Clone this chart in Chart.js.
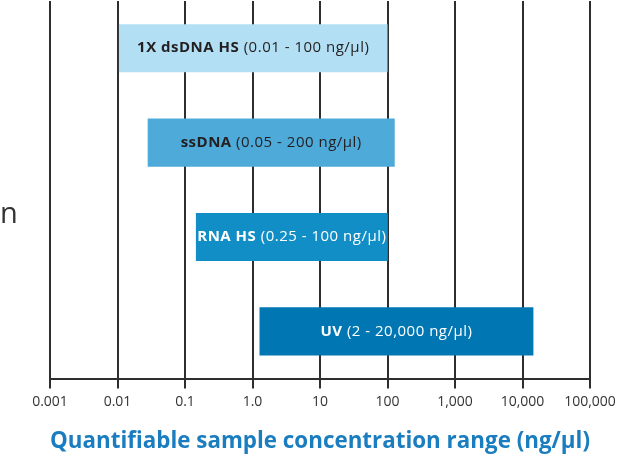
<!DOCTYPE html>
<html>
<head>
<meta charset="utf-8">
<script src="https://cdn.jsdelivr.net/npm/chart.js@4"></script>
<style>
html,body{margin:0;padding:0;background:#fff;}
#wrap{width:633px;height:455px;position:relative;}
</style>
</head>
<body>
<div id="wrap"><canvas id="c" width="633" height="455"></canvas></div>
<script>
const categories = ['1X dsDNA HS', 'ssDNA', 'RNA HS', 'UV'];
const rangeTexts = ['(0.01 - 100 ng/µl)', '(0.05 - 200 ng/µl)', '(0.25 - 100 ng/µl)', '(2 - 20,000 ng/µl)'];
const rangeStart = [0.0105, 0.028, 0.145, 1.27];
const rangeEnd = [100, 128, 101, 14500];
const tickValues = [0.001, 0.01, 0.1, 1, 10, 100, 1000, 10000, 100000];
const tickLabels = ['0.001', '0.01', '0.1', '1.0', '10', '100', '1,000', '10,000', '100,000'];
const barColors = ['#b2dff4', '#4eaad9', '#128ec7', '#0076b3'];
const textColors = ['#231f20', '#231f20', '#ffffff', '#ffffff'];
const axisTitle = 'Quantifiable sample concentration range (ng/µl)';
const sideText = 'n';

const FONT = '"Open Sans", Lato, sans-serif';

const barLabelPlugin = {
  id: 'barLabels',
  afterDatasetsDraw(chart) {
    const ctx = chart.ctx;
    const meta = chart.getDatasetMeta(0);
    ctx.save();
    ctx.textBaseline = 'middle';
    try { ctx.letterSpacing = '0.5px'; } catch (e) {}
    meta.data.forEach((bar, i) => {
      const p = bar.getProps(['x', 'y', 'base'], true);
      const cx = (p.x + p.base) / 2;
      const bold = categories[i] + ' ';
      const reg = rangeTexts[i];
      ctx.font = 'bold 15px ' + FONT;
      const wb = ctx.measureText(bold).width;
      ctx.font = '15px ' + FONT;
      const wr = ctx.measureText(reg).width;
      let x = cx - (wb + wr) / 2;
      ctx.fillStyle = textColors[i];
      ctx.textAlign = 'left';
      ctx.font = 'bold 15px ' + FONT;
      ctx.fillText(bold, x, p.y);
      ctx.font = '15px ' + FONT;
      ctx.fillText(reg, x + wb, p.y);
    });
    ctx.restore();
  }
};

const sideTextPlugin = {
  id: 'sideText',
  afterDraw(chart) {
    const ctx = chart.ctx;
    ctx.save();
    ctx.font = '29px ' + FONT;
    ctx.fillStyle = '#333333';
    ctx.textAlign = 'left';
    ctx.textBaseline = 'alphabetic';
    ctx.fillText(sideText, 0, 223);
    ctx.restore();
  }
};

new Chart(document.getElementById('c'), {
  type: 'bar',
  data: {
    labels: categories,
    datasets: [{
      data: categories.map((c, i) => [rangeStart[i], rangeEnd[i]]),
      backgroundColor: barColors,
      borderWidth: 0,
      borderSkipped: false,
      barPercentage: 0.51,
      categoryPercentage: 1.0
    }]
  },
  options: {
    indexAxis: 'y',
    responsive: false,
    animation: false,
    layout: { padding: { left: 50, right: 43, top: 1, bottom: 0 } },
    plugins: {
      legend: { display: false },
      tooltip: { enabled: false }
    },
    scales: {
      y: {
        display: false
      },
      x: {
        type: 'logarithmic',
        min: 0.001,
        max: 100000,
        afterBuildTicks(scale) {
          scale.ticks = tickValues.map(v => ({ value: v }));
        },
        ticks: {
          autoSkip: false,
          maxRotation: 0,
          padding: 5,
          color: '#333333',
          font: { family: FONT, size: 14 },
          callback(value) {
            const i = tickValues.findIndex(t => Math.abs(Math.log10(t) - Math.log10(value)) < 1e-6);
            return i >= 0 ? tickLabels[i] : '';
          }
        },
        grid: {
          color: '#2e2e2e',
          lineWidth: 2,
          tickLength: 10,
          drawTicks: true
        },
        border: { display: true, color: '#2e2e2e', width: 2 },
        title: {
          display: true,
          text: axisTitle,
          color: '#1a7dbf',
          font: { family: FONT, size: 23, weight: 'bold' },
          padding: { top: 12, bottom: 0 }
        }
      }
    }
  },
  plugins: [barLabelPlugin, sideTextPlugin]
});
</script>
</body>
</html>
